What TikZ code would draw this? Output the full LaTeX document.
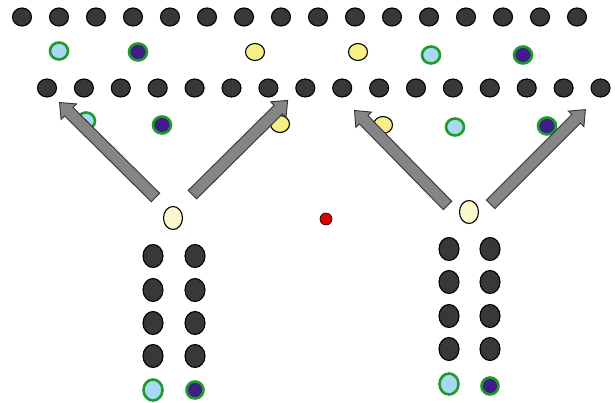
\documentclass[tikz,border=0pt]{standalone}
\usetikzlibrary{shapes.geometric,shapes.arrows}
\definecolor{cellgrey}{HTML}{3A3836}
\definecolor{ringgreen}{HTML}{1E9A2A}
\definecolor{lightblue}{HTML}{A8D8F4}
\definecolor{darkviolet}{HTML}{3C1E86}
\definecolor{yellowcell}{HTML}{F6EE86}
\definecolor{paleyellow}{HTML}{FAF8CC}
\definecolor{arrowgrey}{HTML}{858585}
\begin{document}
\begin{tikzpicture}[x=1pt,y=-1pt,
  cell/.style={ellipse, inner sep=0pt, line width=1.1pt, draw=black},
  darkcell/.style={cell, fill=cellgrey, minimum width=19pt, minimum height=18pt},
  tallcell/.style={cell, fill=cellgrey, minimum width=20pt, minimum height=23pt},
  greenblue/.style={cell, draw=ringgreen, line width=2.6pt, fill=lightblue, minimum width=18pt, minimum height=17pt},
  greendark/.style={cell, draw=ringgreen, line width=2.6pt, fill=darkviolet, minimum width=18pt, minimum height=17pt},
  yellowc/.style={cell, fill=yellowcell, minimum width=19pt, minimum height=17pt},
  paleyel/.style={cell, fill=paleyellow, minimum width=19pt, minimum height=23pt},
  reddot/.style={circle, inner sep=0pt, minimum size=12pt, fill=red!85!black, draw=black, line width=0.6pt},
  fatarrow/.style={single arrow, draw=black!80, line width=0.9pt, fill=arrowgrey,
     inner sep=5.5pt, single arrow head extend=5pt, single arrow tip angle=80,
     allow upside down, sloped, midway}
]
\useasboundingbox (0,0) rectangle (615,403);
\fill[white] (0,0) rectangle (615,403);
% top row
\foreach \i in {0,...,15} \node[darkcell] (t\i) at ({22+37*\i},17) {};
% second row
\node[greenblue] (s1) at (59,51) {};
\node[greendark] (s2) at (138,52) {};
\node[yellowc]   (s3) at (255,52) {};
\node[yellowc]   (s4) at (358,52) {};
\node[greenblue] (s5) at (431,55) {};
\node[greendark] (s6) at (523,55) {};
% third row
\foreach \i in {0,...,15} \node[darkcell] (m\i) at ({47+36.9*\i},88) {};
% fourth row
\node[greenblue] (f1) at (86,121) {};
\node[greendark] (f2) at (162,125) {};
\node[yellowc]   (f3) at (280,124) {};
\node[yellowc]   (f4) at (383,125) {};
\node[greenblue] (f5) at (455,127) {};
\node[greendark] (f6) at (547,126) {};
% V cells
\node[paleyel] (vl) at (173,218) {};
\node[paleyel] (vr) at (469,212) {};
\node[reddot] (red) at (326,219) {};
% bottom columns
\foreach \y [count=\k] in {256,290,323,356} {
  \node[tallcell] (la\k) at (153,\y) {};
  \node[tallcell] (lb\k) at (195,\y) {};
}
\node[greenblue, minimum width=19pt, minimum height=21pt] (la5) at (153,390) {};
\node[greendark, minimum width=17pt, minimum height=17pt] (lb5) at (195,390) {};
\foreach \y [count=\k] in {249,282,316,349} {
  \node[tallcell] (ra\k) at (449,\y) {};
  \node[tallcell] (rb\k) at (490,\y) {};
}
\node[greenblue, minimum width=19pt, minimum height=21pt] (ra5) at (449,384) {};
\node[greendark, minimum width=17pt, minimum height=17pt] (rb5) at (490,386) {};
% arrows
\coordinate (a1t) at (158,200); \coordinate (a1h) at (62,105);
\coordinate (a2t) at (190,197); \coordinate (a2h) at (285,103);
\coordinate (a3t) at (450,208); \coordinate (a3h) at (357,113);
\coordinate (a4t) at (488,207); \coordinate (a4h) at (583,112);
\path (a1t) -- (a1h) node[fatarrow, minimum height=135pt] (ar1) {};
\path (a2t) -- (a2h) node[fatarrow, minimum height=134pt] (ar2) {};
\path (a3t) -- (a3h) node[fatarrow, minimum height=133pt] (ar3) {};
\path (a4t) -- (a4h) node[fatarrow, minimum height=134pt] (ar4) {};
\end{tikzpicture}
\end{document}
